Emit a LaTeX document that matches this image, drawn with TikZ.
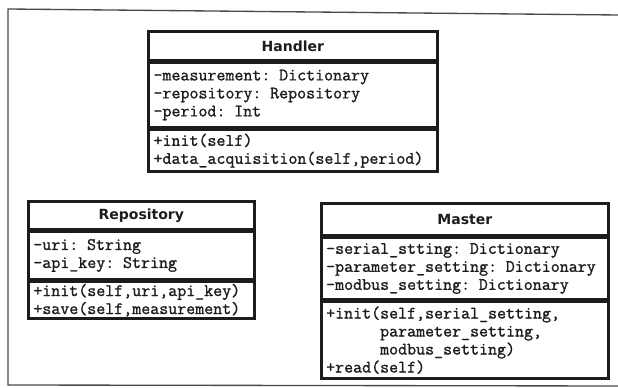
\documentclass[tikz,border=0pt]{standalone}
\usepackage{fontspec}
\newfontfamily\codefont{Latin Modern Mono}[FakeBold=1.2]
\newfontfamily\titlefont{DejaVu Sans}
\definecolor{ink}{HTML}{1C1C1C}
\definecolor{framegray}{HTML}{4A4A4A}
\begin{document}
\begin{tikzpicture}[x=0.75pt,y=-0.75pt,
  compartment/.style={draw=ink, line width=2pt, fill=white, anchor=north west,
    inner xsep=3pt, inner ysep=0pt, align=left, text=ink,
    font=\fontsize{13.1}{13.5}\selectfont\codefont},
  classtitle/.style={compartment, align=center,
    font=\fontsize{10.5}{12}\selectfont\titlefont\bfseries}]
  \useasboundingbox (0,0) rectangle (618,388);
  \fill[white] (0,0) rectangle (618,388);

  % outer frame
  \coordinate (f1) at (618,15);
  \coordinate (f2) at (8,9);
  \coordinate (f3) at (8,385);
  \coordinate (f4) at (618,386);
  \draw[framegray, line width=1pt] (f1) -- (f2) -- (f3) -- (f4);

  % Handler
  \node[classtitle, minimum width=216.75pt, minimum height=21.75pt, text width=209pt] (hT) at (147,30) {Handler};
  \node[compartment, minimum width=216.75pt, minimum height=48pt, text width=209pt] (hA) at (hT.south west)
    {-measurement: Dictionary\\-repository: Repository\\-period: Int};
  \node[compartment, minimum width=216.75pt, minimum height=31.5pt, text width=209pt] (hM) at (hA.south west)
    {+init(self)\\+data\_acquisition(self,period)};

  % Repository
  \node[classtitle, minimum width=169.5pt, minimum height=21pt, text width=162pt] (rT) at (27,200) {Repository};
  \node[compartment, minimum width=169.5pt, minimum height=35.25pt, text width=162pt] (rA) at (rT.south west)
    {-uri: String\\-api\_key: String};
  \node[compartment, minimum width=169.5pt, minimum height=27.75pt, text width=162pt] (rM) at (rA.south west)
    {+init(self,uri,api\_key)\\+save(self,measurement)};

  % Master
  \node[classtitle, minimum width=215.25pt, minimum height=24pt, text width=208pt] (mT) at (320,202) {Master};
  \node[compartment, minimum width=215.25pt, minimum height=45.75pt, text width=208pt] (mA) at (mT.south west)
    {-serial\_stting: Dictionary\\-parameter\_setting: Dictionary\\-modbus\_setting: Dictionary};
  \node[compartment, minimum width=215.25pt, minimum height=57.75pt, text width=208pt] (mM) at (mA.south west)
    {+init(self,serial\_setting,\\\phantom{+init(}parameter\_setting,\\\phantom{+init(}modbus\_setting)\\+read(self)};
\end{tikzpicture}
\end{document}
